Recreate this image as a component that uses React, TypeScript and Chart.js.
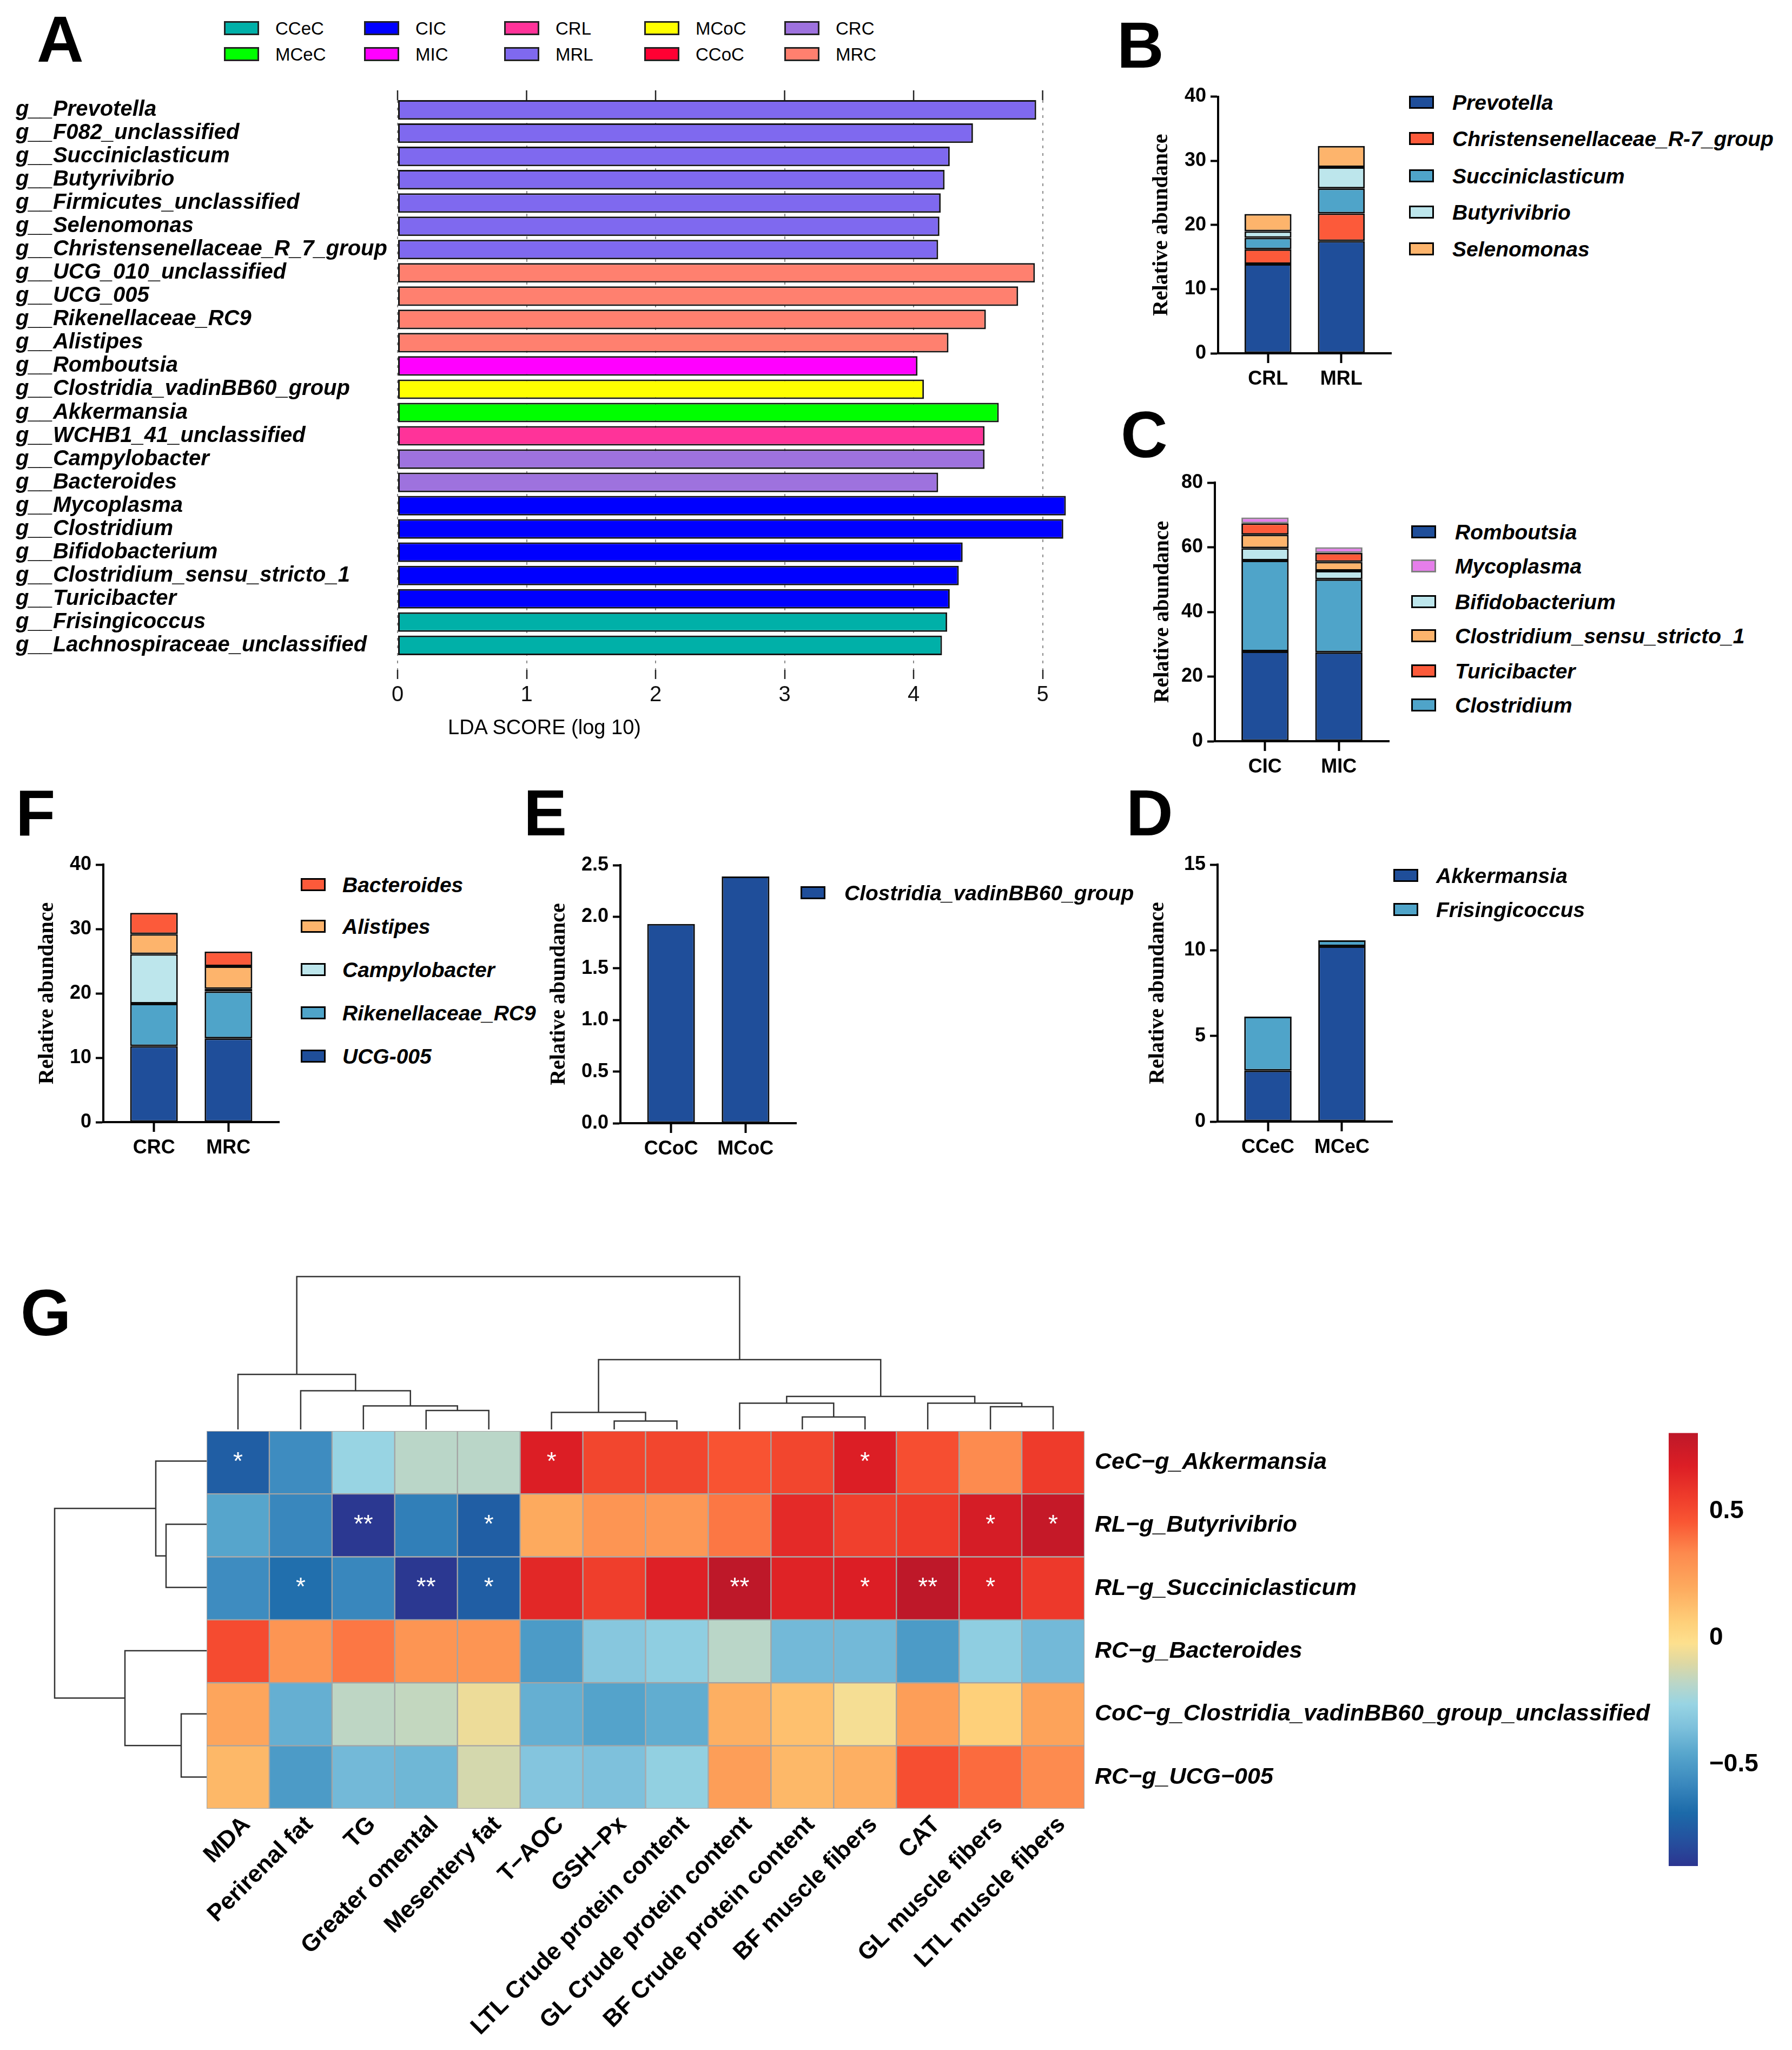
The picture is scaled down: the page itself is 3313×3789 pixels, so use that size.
import React, { useEffect, useRef } from 'react';
import { Chart, registerables } from 'chart.js';

Chart.register(...registerables);

const SANS = '"Liberation Sans", Arial, Helvetica, sans-serif';
const SERIF = '"Liberation Serif", "Times New Roman", serif';
Chart.defaults.font.family = SANS;
Chart.defaults.color = '#000';

// ---------------- Panel A : LEfSe LDA scores ----------------
const ldaTaxa = [
  'g__Prevotella', 'g__F082_unclassified', 'g__Succiniclasticum', 'g__Butyrivibrio',
  'g__Firmicutes_unclassified', 'g__Selenomonas', 'g__Christensenellaceae_R_7_group',
  'g__UCG_010_unclassified', 'g__UCG_005', 'g__Rikenellaceae_RC9', 'g__Alistipes',
  'g__Romboutsia', 'g__Clostridia_vadinBB60_group', 'g__Akkermansia', 'g__WCHB1_41_unclassified',
  'g__Campylobacter', 'g__Bacteroides', 'g__Mycoplasma', 'g__Clostridium', 'g__Bifidobacterium',
  'g__Clostridium_sensu_stricto_1', 'g__Turicibacter', 'g__Frisingicoccus', 'g__Lachnospiraceae_unclassified',
];
const ldaScores = [4.95, 4.46, 4.28, 4.24, 4.21, 4.2, 4.19, 4.94, 4.81, 4.56, 4.27, 4.03, 4.08, 4.66, 4.55, 4.55, 4.19, 5.18, 5.16, 4.38, 4.35, 4.28, 4.26, 4.22];
const ldaGroups = ['MRL', 'MRL', 'MRL', 'MRL', 'MRL', 'MRL', 'MRL', 'MRC', 'MRC', 'MRC', 'MRC', 'MIC', 'MCoC', 'MCeC', 'CRL', 'CRC', 'CRC', 'CIC', 'CIC', 'CIC', 'CIC', 'CIC', 'CCeC', 'CCeC'];
const groupNames = ['CCeC', 'CIC', 'CRL', 'MCoC', 'CRC', 'MCeC', 'MIC', 'MRL', 'CCoC', 'MRC'];
const groupColors = ['#00B0A8', '#0000FF', '#FF3399', '#FFFF00', '#9E72DE', '#00FF00', '#FF00FF', '#7F69EF', '#FF0033', '#FF806F'];
const ldaTicks = [0, 1, 2, 3, 4, 5];

// ---------------- Panel B ----------------
const bCats = ['CRL', 'MRL'];
const bPrevotella = [13.9, 17.5];
const bChristensenellaceae = [2.3, 4.3];
const bSucciniclasticum = [1.8, 3.9];
const bButyrivibrio = [1.0, 3.3];
const bSelenomonas = [2.7, 3.3];

// ---------------- Panel C ----------------
const cCats = ['CIC', 'MIC'];
const cRomboutsia = [27.8, 27.5];
const cClostridium = [28.1, 22.6];
const cBifidobacterium = [3.8, 2.6];
const cClostridiumSS1 = [4.2, 2.8];
const cTuricibacter = [3.5, 2.8];
const cMycoplasma = [1.8, 1.7];

// ---------------- Panel F ----------------
const fCats = ['CRC', 'MRC'];
const fUCG005 = [11.8, 13.0];
const fRikenellaceae = [6.6, 7.3];
const fCampylobacter = [7.7, 0.4];
const fAlistipes = [3.1, 3.5];
const fBacteroides = [3.3, 2.3];

// ---------------- Panel E ----------------
const eCats = ['CCoC', 'MCoC'];
const eClostridiaVadin = [1.93, 2.39];

// ---------------- Panel D ----------------
const dCats = ['CCeC', 'MCeC'];
const dAkkermansia = [2.98, 10.23];
const dFrisingicoccus = [3.15, 0.35];

const DARK_BLUE = '#1F4E9A';
const MID_BLUE = '#4FA4C9';
const LIGHT_CYAN = '#BDE6EC';
const LIGHT_ORANGE = '#FDB46C';
const RED_ORANGE = '#FC5A3A';
const PINK = '#E57EEA';

// ---------------- Panel G : correlation heatmap ----------------
const hmCols = ['MDA', 'Perirenal fat', 'TG', 'Greater omental', 'Mesentery fat', 'T\u2212AOC', 'GSH\u2212Px',
  'LTL Crude protein content', 'GL Crude protein content', 'BF Crude protein content', 'BF muscle fibers',
  'CAT', 'GL muscle fibers', 'LTL muscle fibers'];
const hmRows = ['CeC\u2212g_Akkermansia', 'RL\u2212g_Butyrivibrio', 'RL\u2212g_Succiniclasticum', 'RC\u2212g_Bacteroides',
  'CoC\u2212g_Clostridia_vadinBB60_group_unclassified', 'RC\u2212g_UCG\u2212005'];
const hmAkkermansia = [-0.74, -0.56, -0.26, -0.18, -0.18, 0.68, 0.52, 0.52, 0.47, 0.52, 0.68, 0.49, 0.33, 0.56];
const hmButyrivibrio = [-0.46, -0.58, -0.89, -0.61, -0.74, 0.2, 0.29, 0.28, 0.38, 0.63, 0.54, 0.56, 0.71, 0.78];
const hmSucciniclasticum = [-0.56, -0.67, -0.58, -0.89, -0.74, 0.64, 0.55, 0.67, 0.81, 0.66, 0.68, 0.81, 0.69, 0.57];
const hmBacteroides = [0.5, 0.29, 0.38, 0.29, 0.29, -0.5, -0.32, -0.29, -0.18, -0.38, -0.38, -0.5, -0.29, -0.38];
const hmClostridia = [0.22, -0.42, -0.17, -0.16, -0.06, -0.42, -0.47, -0.43, 0.18, 0.12, -0.04, 0.25, 0.06, 0.23];
const hmUCG005 = [0.15, -0.5, -0.38, -0.39, -0.12, -0.33, -0.35, -0.28, 0.25, 0.15, 0.18, 0.49, 0.41, 0.33];
const hmStarsAkkermansia = ['*', '', '', '', '', '*', '', '', '', '', '*', '', '', ''];
const hmStarsButyrivibrio = ['', '', '**', '', '*', '', '', '', '', '', '', '', '*', '*'];
const hmStarsSucciniclasticum = ['', '*', '', '**', '*', '', '', '', '**', '', '*', '**', '*', ''];
const hmStarsBacteroides = ['', '', '', '', '', '', '', '', '', '', '', '', '', ''];
const hmStarsClostridia = ['', '', '', '', '', '', '', '', '', '', '', '', '', ''];
const hmStarsUCG005 = ['', '', '', '', '', '', '', '', '', '', '', '', '', ''];
// column dendrogram: [a, b, height]; a/b < 100 = leaf index, >= 100 = earlier merge (100 + k)
const colMerges = [
  [3, 4, 0.35], [2, 100, 0.436], [1, 101, 0.716], [0, 102, 1.017],
  [6, 7, 0.154], [5, 104, 0.316], [9, 10, 0.231], [8, 106, 0.484],
  [12, 13, 0.421], [11, 108, 0.484], [107, 109, 0.61], [105, 110, 1.29], [103, 111, 2.826],
];
const rowMerges = [[1, 2, 0.75], [0, 100, 0.94], [4, 5, 0.47], [3, 102, 1.51], [101, 103, 2.81]];
const cbMin = -0.9;
const cbMax = 0.81;
const cbTicks = [-0.5, 0, 0.5];
const hmStops: [number, string][] = [
  [-0.9, '#2C3590'], [-0.8, '#25509E'], [-0.69, '#1C6AA9'], [-0.58, '#3987BD'], [-0.46, '#56A5CC'],
  [-0.35, '#7EC1DC'], [-0.26, '#98D4E3'], [-0.18, '#BAD6C8'], [-0.1, '#DDD8A4'], [-0.02, '#FDE08E'],
  [0.06, '#FED07A'], [0.2, '#FDAA5E'], [0.335, '#FD8A4E'], [0.46, '#F95633'], [0.56, '#EE3B2B'],
  [0.68, '#DC1E25'], [0.81, '#BE1829'],
];

function hex2rgb(h: string) {
  const n = parseInt(h.slice(1), 16);
  return [(n >> 16) & 255, (n >> 8) & 255, n & 255];
}
function colorFor(v: number) {
  if (v <= hmStops[0][0]) return hmStops[0][1];
  for (let i = 1; i < hmStops.length; i++) {
    if (v <= hmStops[i][0]) {
      const [v0, c0] = hmStops[i - 1];
      const [v1, c1] = hmStops[i];
      const t = (v - v0) / (v1 - v0);
      const a = hex2rgb(c0), b = hex2rgb(c1);
      const m = a.map((x, k) => Math.round(x + (b[k] - x) * t));
      return `rgb(${m[0]},${m[1]},${m[2]})`;
    }
  }
  return hmStops[hmStops.length - 1][1];
}

// ---------------- generic chart holder ----------------
function ChartBox({ left, top, width, height, config }: { left: number; top: number; width: number; height: number; config: () => any }) {
  const ref = useRef<HTMLCanvasElement>(null);
  useEffect(() => {
    const chart = new Chart(ref.current as HTMLCanvasElement, config());
    return () => chart.destroy();
  }, []);
  return (
    <div style={{ position: 'absolute', left, top, width, height }}>
      <canvas ref={ref} width={width} height={height} style={{ width, height, display: 'block' }} />
    </div>
  );
}

function Txt({ x, y, size, children, weight = 'normal', italic = false, family = SANS, color = '#000' }: any) {
  return (
    <div style={{ position: 'absolute', left: x, top: y - size / 2, fontSize: size, lineHeight: `${size}px`, fontWeight: weight, fontStyle: italic ? 'italic' : 'normal', fontFamily: family, color, whiteSpace: 'nowrap' }}>
      {children}
    </div>
  );
}

function Letter({ x, capTop, ch }: { x: number; capTop: number; ch: string }) {
  return (
    <div style={{ position: 'absolute', left: x, top: capTop - 16, fontSize: 120, lineHeight: '120px', fontWeight: 'bold', fontFamily: SANS, color: '#000' }}>{ch}</div>
  );
}

function Legend({ names, colors, borders, swatchX, textX, rowsY, sw = 46, sh = 24, size = 39 }: any) {
  return (
    <>
      {names.map((n: string, i: number) => (
        <React.Fragment key={n}>
          <div style={{ position: 'absolute', left: swatchX, top: rowsY[i] - sh / 2, width: sw, height: sh, boxSizing: 'border-box', background: colors[i], border: `3px solid ${borders ? borders[i] : '#000'}` }} />
          <Txt x={textX} y={rowsY[i]} size={size} weight="bold" italic>{n}</Txt>
        </React.Fragment>
      ))}
    </>
  );
}

const topTicksPlugin = {
  id: 'topTicks',
  afterDraw(chart: any) {
    const xs = chart.scales.x;
    const { ctx, chartArea } = chart;
    ctx.save();
    ctx.strokeStyle = '#222';
    ctx.lineWidth = 2.5;
    xs.ticks.forEach((t: any) => {
      const px = xs.getPixelForValue(t.value);
      ctx.beginPath();
      ctx.moveTo(px, chartArea.top - 18);
      ctx.lineTo(px, chartArea.top);
      ctx.stroke();
    });
    ctx.restore();
  },
};

function ldaConfig() {
  const colorOf = (g: string) => groupColors[groupNames.indexOf(g)];
  return {
    type: 'bar',
    data: {
      datasets: [{
        data: ldaScores.map((v, i) => ({ x: v, y: i })),
        backgroundColor: ldaGroups.map(colorOf),
        borderColor: '#151515',
        borderWidth: 3,
        borderSkipped: false,
        barPercentage: 0.84,
        categoryPercentage: 1,
      }],
    },
    options: {
      indexAxis: 'y',
      animation: false,
      responsive: false,
      devicePixelRatio: 1,
      events: [],
      layout: { padding: { left: 29, top: 65, right: 18, bottom: 0 } },
      plugins: { legend: { display: false }, tooltip: { enabled: false } },
      scales: {
        x: {
          type: 'linear', min: 0, max: 5.27, offset: false,
          afterBuildTicks: (s: any) => { s.ticks = ldaTicks.map((v) => ({ value: v })); },
          afterFit: (s: any) => { s.height = 162; },
          grid: { color: '#8a8a8a', lineWidth: 2, drawTicks: true, tickLength: 17, tickColor: '#222', tickWidth: 2.5, tickBorderDash: [], offset: false },
          border: { display: false, dash: [5, 9] },
          ticks: { font: { size: 40 }, color: '#111', padding: 6 },
        },
        y: {
          type: 'linear', reverse: true, min: -0.42, max: 24.05, offset: false,
          afterBuildTicks: (s: any) => { s.ticks = ldaTaxa.map((_, i) => ({ value: i })); },
          afterFit: (s: any) => { s.width = 706; },
          grid: { display: false, drawTicks: false, offset: false },
          border: { display: false },
          ticks: { autoSkip: false, crossAlign: 'far', font: { size: 40, weight: 'bold', style: 'italic', lineHeight: 1 }, color: '#000', callback: (v: number) => ldaTaxa[v] },
        },
      },
    },
    plugins: [topTicksPlugin],
  };
}

type Series = { name: string; color: string; border?: string; values: number[] };
function stackConfig(cats: string[], series: Series[], yMax: number, yStep: number, decimals: number,
  box: { left: number; top: number; width: number; height: number }, area: { l: number; t: number; r: number; b: number }) {
  return () => ({
    type: 'bar',
    data: {
      datasets: series.map((s) => ({
        label: s.name,
        data: s.values.map((v, i) => ({ x: i, y: v })),
        backgroundColor: s.color,
        borderColor: s.border || '#0a0a0a',
        borderWidth: 3,
        borderSkipped: false,
        barPercentage: 0.64,
        categoryPercentage: 1,
      })),
    },
    options: {
      animation: false,
      responsive: false,
      devicePixelRatio: 1,
      events: [],
      layout: { padding: { left: 0, top: area.t - box.top, right: box.left + box.width - area.r, bottom: 0 } },
      plugins: { legend: { display: false }, tooltip: { enabled: false } },
      scales: {
        x: {
          type: 'linear', stacked: true, min: -0.68, max: 1.68, offset: false,
          afterBuildTicks: (s: any) => { s.ticks = cats.map((_, i) => ({ value: i })); },
          afterFit: (s: any) => { s.height = box.top + box.height - area.b; },
          grid: { drawOnChartArea: false, drawTicks: true, tickLength: 18, tickWidth: 4, tickColor: '#000', offset: false },
          border: { display: true, color: '#000', width: 4 },
          ticks: { font: { size: 36, weight: 'bold' }, color: '#000', padding: 8, autoSkip: false, callback: (v: number) => cats[v] },
        },
        y: {
          type: 'linear', stacked: true, min: 0, max: yMax,
          ticks: { stepSize: yStep, font: { size: 36, weight: 'bold' }, color: '#000', padding: 8, callback: (v: number) => v.toFixed(decimals) },
          afterFit: (s: any) => { s.width = area.l - box.left; },
          grid: { drawOnChartArea: false, drawTicks: true, tickLength: 14, tickWidth: 4, tickColor: '#000' },
          border: { display: true, color: '#000', width: 4 },
          title: { display: true, text: 'Relative abundance', color: '#000', padding: 0, font: { family: SERIF, size: 40, weight: 'bold' } },
        },
      },
    },
  });
}

const starsPlugin = {
  id: 'stars',
  afterDatasetsDraw(chart: any) {
    const { ctx } = chart;
    const xs = chart.scales.x;
    const ys = chart.scales.y;
    const rows = [hmStarsAkkermansia, hmStarsButyrivibrio, hmStarsSucciniclasticum, hmStarsBacteroides, hmStarsClostridia, hmStarsUCG005];
    ctx.save();
    ctx.fillStyle = '#fff';
    ctx.font = `46px ${SANS}`;
    ctx.textAlign = 'center';
    ctx.textBaseline = 'middle';
    rows.forEach((row, j) => row.forEach((s, i) => {
      if (s) ctx.fillText(s, xs.getPixelForValue(i), ys.getPixelForValue(j + 0.5));
    }));
    ctx.restore();
  },
};

function heatmapConfig() {
  const rows = [hmAkkermansia, hmButyrivibrio, hmSucciniclasticum, hmBacteroides, hmClostridia, hmUCG005];
  return {
    type: 'bar',
    data: {
      labels: hmCols,
      datasets: rows.map((vals, j) => ({
        data: vals.map(() => [j, j + 1]),
        backgroundColor: vals.map(colorFor),
        borderColor: '#a4a4a4',
        borderWidth: 1.5,
        borderSkipped: false,
        grouped: false,
        barPercentage: 1,
        categoryPercentage: 1,
      })),
    },
    options: {
      animation: false,
      responsive: false,
      devicePixelRatio: 1,
      events: [],
      layout: { padding: { left: 182, top: 42, right: 0, bottom: 0 } },
      plugins: { legend: { display: false }, tooltip: { enabled: false } },
      scales: {
        x: {
          type: 'category',
          afterFit: (s: any) => { s.height = 446; },
          grid: { display: false, drawTicks: false },
          border: { display: false },
          ticks: { autoSkip: false, minRotation: 45, maxRotation: 45, padding: 4, labelOffset: 16, color: '#000', font: { size: 44, weight: 'bold' } },
        },
        y: {
          type: 'linear', position: 'right', reverse: true, min: 0, max: 6,
          afterBuildTicks: (s: any) => { s.ticks = hmRows.map((_, i) => ({ value: i + 0.5 })); },
          afterFit: (s: any) => { s.width = 1065; },
          grid: { display: false, drawTicks: false },
          border: { display: false },
          ticks: { autoSkip: false, padding: 19, color: '#000', font: { size: 43, style: 'italic', weight: 'bold' }, callback: (v: number) => hmRows[Math.floor(v)] },
        },
      },
    },
    plugins: [starsPlugin],
  };
}

function dendroConfig(merges: number[][], orient: 'top' | 'left', posMin: number, posMax: number, hMax: number) {
  return () => {
    const cpos: number[] = [];
    const ch: number[] = [];
    const get = (id: number) => (id >= 100 ? [cpos[id - 100], ch[id - 100]] : [id, 0]);
    const datasets = merges.map(([a, b, h], k) => {
      const [pa, ha] = get(a);
      const [pb, hb] = get(b);
      cpos[k] = (pa + pb) / 2;
      ch[k] = h;
      const pts = orient === 'top'
        ? [{ x: pa, y: ha }, { x: pa, y: h }, { x: pb, y: h }, { x: pb, y: hb }]
        : [{ x: ha, y: pa }, { x: h, y: pa }, { x: h, y: pb }, { x: hb, y: pb }];
      return { data: pts, showLine: true, borderColor: '#333', borderWidth: 2.5, pointRadius: 0, tension: 0, fill: false, clip: 4 };
    });
    const posScale = { type: 'linear', display: false, min: posMin, max: posMax, reverse: orient === 'left', offset: false };
    const hScale = { type: 'linear', display: false, min: 0, max: hMax, reverse: orient === 'left', offset: false };
    return {
      type: 'scatter',
      data: { datasets },
      options: {
        animation: false, responsive: false, devicePixelRatio: 1, events: [],
        layout: { padding: 0 },
        plugins: { legend: { display: false }, tooltip: { enabled: false } },
        scales: orient === 'top' ? { x: posScale, y: hScale } : { x: hScale, y: posScale },
      },
    };
  };
}

function colorbarConfig() {
  return {
    type: 'bar',
    data: {
      labels: ['r'],
      datasets: [{
        data: [[cbMin, cbMax]],
        backgroundColor: (ctx: any) => {
          const chart = ctx.chart;
          const ys = chart.scales.y;
          if (!ys || !chart.chartArea) return '#ccc';
          const g = chart.ctx.createLinearGradient(0, ys.getPixelForValue(cbMin), 0, ys.getPixelForValue(cbMax));
          hmStops.forEach(([v, c]) => g.addColorStop(Math.min(1, Math.max(0, (v - cbMin) / (cbMax - cbMin))), c));
          return g;
        },
        borderWidth: 0,
        barPercentage: 1,
        categoryPercentage: 1,
      }],
    },
    options: {
      animation: false, responsive: false, devicePixelRatio: 1, events: [],
      layout: { padding: { left: 0, top: 41.5, right: 0, bottom: 51 } },
      plugins: { legend: { display: false }, tooltip: { enabled: false } },
      scales: {
        x: { type: 'category', display: false },
        y: {
          type: 'linear', position: 'right', min: cbMin, max: cbMax,
          afterBuildTicks: (s: any) => { s.ticks = cbTicks.map((v) => ({ value: v })); },
          afterFit: (s: any) => { s.width = 174; },
          grid: { display: false, drawTicks: false },
          border: { display: false },
          ticks: { padding: 21, color: '#000', font: { size: 46, weight: 'bold' }, callback: (v: number) => (v === 0 ? '0' : (v < 0 ? '\u2212' : '') + Math.abs(v).toFixed(1)) },
        },
      },
    },
  };
}

// panel definitions (stack order bottom -> top)
const bSeries: Series[] = [
  { name: 'Prevotella', color: DARK_BLUE, values: bPrevotella },
  { name: 'Christensenellaceae_R-7_group', color: RED_ORANGE, values: bChristensenellaceae },
  { name: 'Succiniclasticum', color: MID_BLUE, values: bSucciniclasticum },
  { name: 'Butyrivibrio', color: LIGHT_CYAN, values: bButyrivibrio },
  { name: 'Selenomonas', color: LIGHT_ORANGE, values: bSelenomonas },
];
const cSeries: Series[] = [
  { name: 'Romboutsia', color: DARK_BLUE, values: cRomboutsia },
  { name: 'Clostridium', color: MID_BLUE, values: cClostridium },
  { name: 'Bifidobacterium', color: LIGHT_CYAN, values: cBifidobacterium },
  { name: 'Clostridium_sensu_stricto_1', color: LIGHT_ORANGE, values: cClostridiumSS1 },
  { name: 'Turicibacter', color: RED_ORANGE, values: cTuricibacter },
  { name: 'Mycoplasma', color: PINK, border: '#808080', values: cMycoplasma },
];
const fSeries: Series[] = [
  { name: 'UCG-005', color: DARK_BLUE, values: fUCG005 },
  { name: 'Rikenellaceae_RC9', color: MID_BLUE, values: fRikenellaceae },
  { name: 'Campylobacter', color: LIGHT_CYAN, values: fCampylobacter },
  { name: 'Alistipes', color: LIGHT_ORANGE, values: fAlistipes },
  { name: 'Bacteroides', color: RED_ORANGE, values: fBacteroides },
];
const eSeries: Series[] = [{ name: 'Clostridia_vadinBB60_group', color: DARK_BLUE, values: eClostridiaVadin }];
const dSeries: Series[] = [
  { name: 'Akkermansia', color: DARK_BLUE, values: dAkkermansia },
  { name: 'Frisingicoccus', color: MID_BLUE, values: dFrisingicoccus },
];

const bBox = { left: 2124, top: 100, width: 468, height: 645 };
const cBox = { left: 2126, top: 820, width: 464, height: 640 };
const fBox = { left: 64, top: 1530, width: 472, height: 635 };
const eBox = { left: 1010, top: 1530, width: 482, height: 635 };
const dBox = { left: 2117, top: 1530, width: 477, height: 635 };

const cfgB = stackConfig(bCats, bSeries, 40, 10, 0, bBox, { l: 2252, t: 178.5, r: 2572, b: 653 });
const cfgC = stackConfig(cCats, cSeries, 80, 20, 0, cBox, { l: 2246, t: 892, r: 2568, b: 1370 });
const cfgF = stackConfig(fCats, fSeries, 40, 10, 0, fBox, { l: 191, t: 1598, r: 516, b: 2074 });
const cfgE = stackConfig(eCats, eSeries, 2.5, 0.5, 1, eBox, { l: 1147, t: 1599, r: 1472, b: 2076 });
const cfgD = stackConfig(dCats, dSeries, 15, 5, 0, dBox, { l: 2251, t: 1598, r: 2574, b: 2073 });

const pick = (arr: Series[], order: string[]) => order.map((n) => arr.find((s) => s.name === n) as Series);
const bLegend = pick(bSeries, ['Prevotella', 'Christensenellaceae_R-7_group', 'Succiniclasticum', 'Butyrivibrio', 'Selenomonas']);
const cLegend = pick(cSeries, ['Romboutsia', 'Mycoplasma', 'Bifidobacterium', 'Clostridium_sensu_stricto_1', 'Turicibacter', 'Clostridium']);
const fLegend = pick(fSeries, ['Bacteroides', 'Alistipes', 'Campylobacter', 'Rikenellaceae_RC9', 'UCG-005']);
const eLegend = eSeries;
const dLegend = dSeries;

function SeriesLegend({ list, swatchX, textX, rowsY }: { list: Series[]; swatchX: number; textX: number; rowsY: number[] }) {
  return (
    <Legend names={list.map((s) => s.name)} colors={list.map((s) => s.color)} borders={list.map((s) => s.border || '#000')} swatchX={swatchX} textX={textX} rowsY={rowsY} />
  );
}

export default function App() {
  return (
    <div style={{ position: 'absolute', left: 0, top: 0, width: 3313, height: 3789, background: '#fff', overflow: 'hidden', fontFamily: SANS }}>
      {/* Panel A */}
      <Letter x={68} capTop={28} ch="A" />
      {groupNames.map((g, i) => {
        const col = i % 5;
        const row = Math.floor(i / 5);
        const sx = 414 + col * 259;
        const cy = 52 + row * 48;
        return (
          <React.Fragment key={g}>
            <div style={{ position: 'absolute', left: sx, top: cy - 13, width: 65, height: 26, boxSizing: 'border-box', background: groupColors[i], border: '3px solid #222' }} />
            <Txt x={sx + 95} y={cy} size={33}>{g}</Txt>
          </React.Fragment>
        );
      })}
      <ChartBox left={0} top={120} width={2010} height={1280} config={ldaConfig} />
      <Txt x={828} y={1344} size={38}>LDA SCORE (log 10)</Txt>

      {/* Panel B */}
      <Letter x={2065} capTop={39} ch="B" />
      <ChartBox {...bBox} config={cfgB} />
      <SeriesLegend list={bLegend} swatchX={2605} textX={2685} rowsY={[189, 256, 325, 392, 460]} />

      {/* Panel C */}
      <Letter x={2072} capTop={759} ch="C" />
      <ChartBox {...cBox} config={cfgC} />
      <SeriesLegend list={cLegend} swatchX={2609} textX={2690} rowsY={[983, 1046, 1112, 1175, 1240, 1303]} />

      {/* Panel F */}
      <Letter x={29} capTop={1458} ch="F" />
      <ChartBox {...fBox} config={cfgF} />
      <SeriesLegend list={fLegend} swatchX={556} textX={633} rowsY={[1635, 1712, 1792, 1872, 1952]} />

      {/* Panel E */}
      <Letter x={968} capTop={1458} ch="E" />
      <ChartBox {...eBox} config={cfgE} />
      <SeriesLegend list={eLegend} swatchX={1480} textX={1561} rowsY={[1650]} />

      {/* Panel D */}
      <Letter x={2082} capTop={1458} ch="D" />
      <ChartBox {...dBox} config={cfgD} />
      <SeriesLegend list={dLegend} swatchX={2576} textX={2655} rowsY={[1618, 1681]} />

      {/* Panel G */}
      <Letter x={38} capTop={2382} ch="G" />
      <ChartBox left={382} top={2340} width={1623} height={302} config={dendroConfig(colMerges, 'top', -0.5, 13.5, 3.02)} />
      <ChartBox left={80} top={2642} width={302} height={701} config={dendroConfig(rowMerges, 'left', -0.5, 5.5, 3.02)} />
      <ChartBox left={200} top={2600} width={2870} height={1189} config={heatmapConfig} />
      <ChartBox left={3085} top={2600} width={228} height={900} config={colorbarConfig} />
    </div>
  );
}
